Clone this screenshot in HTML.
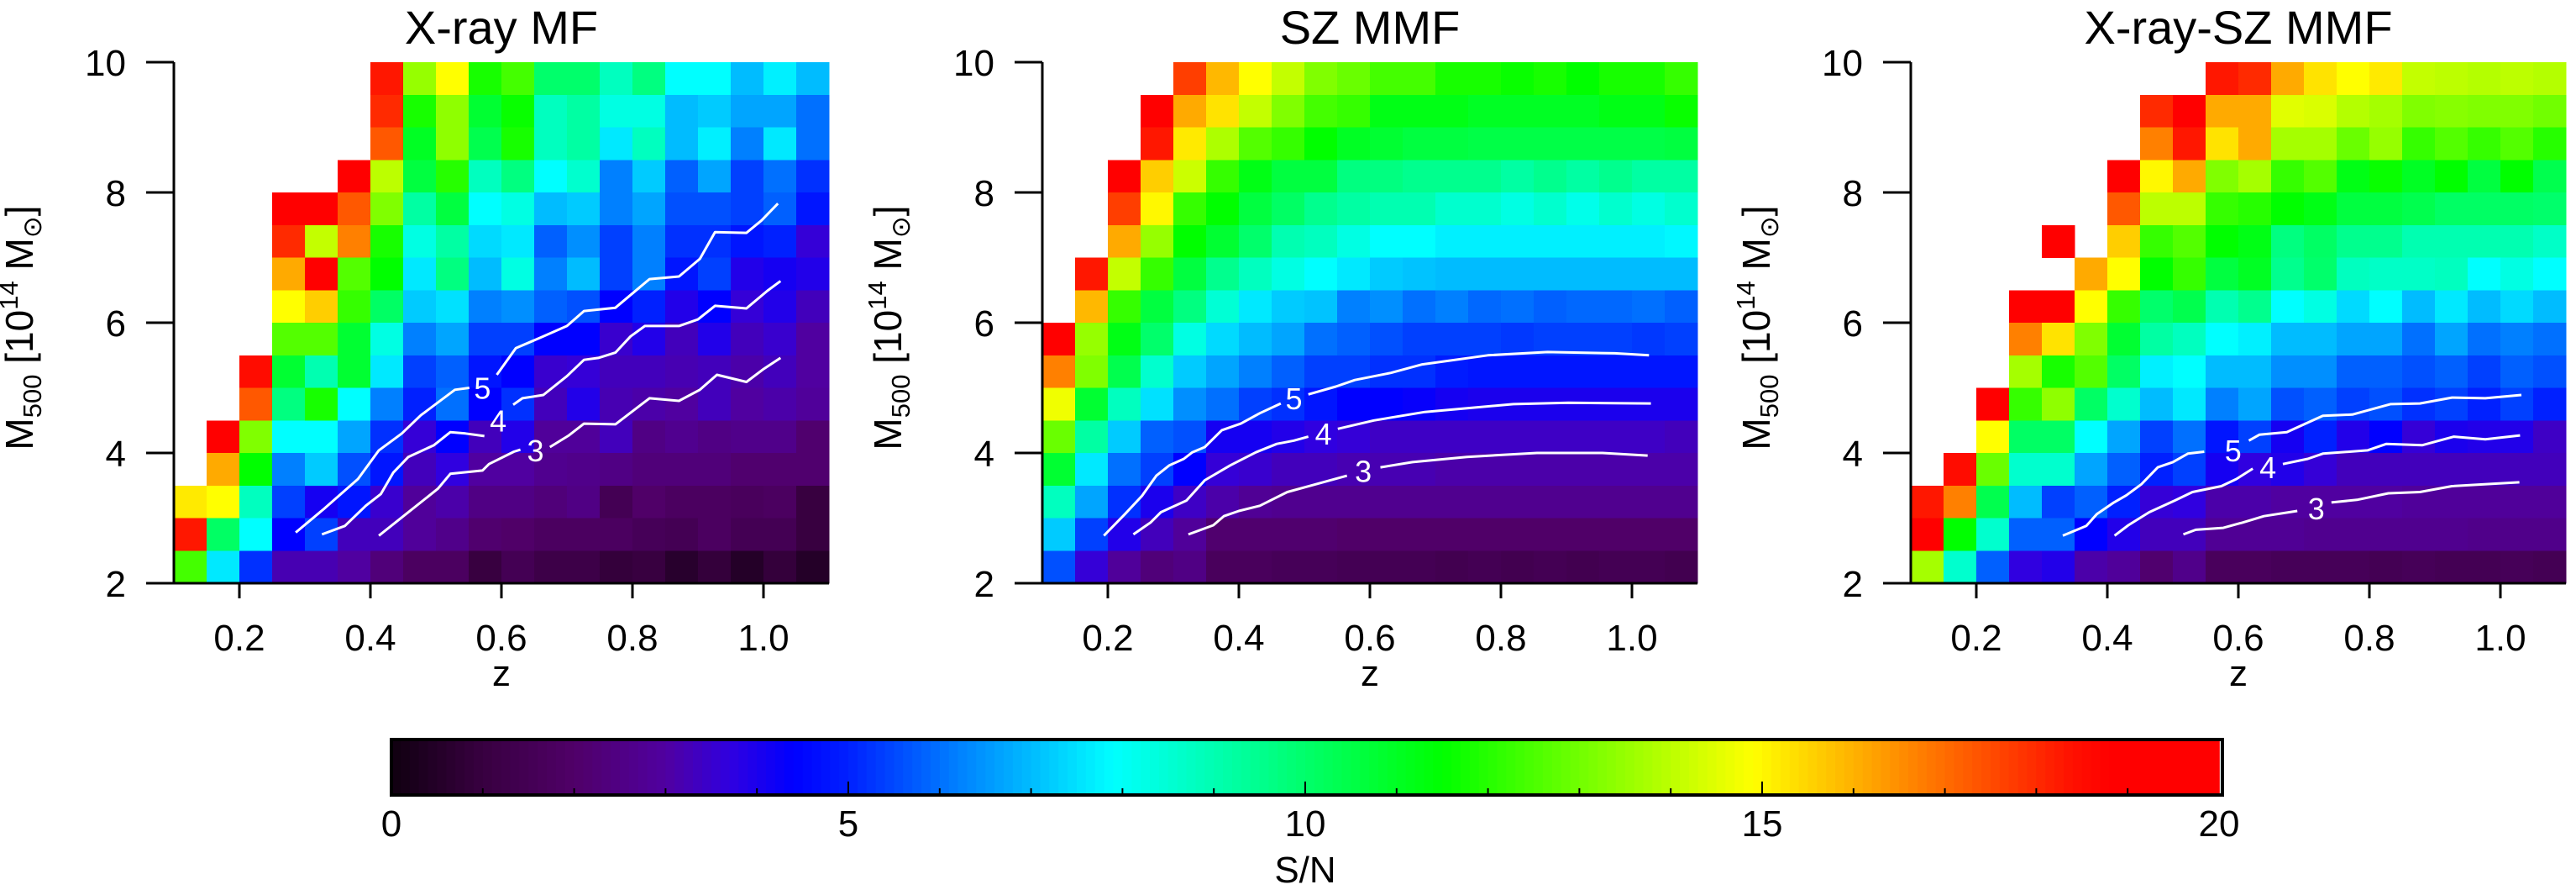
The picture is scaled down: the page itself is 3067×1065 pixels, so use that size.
<!DOCTYPE html>
<html><head><meta charset="utf-8">
<style>
html,body{margin:0;padding:0;background:#fff;}
svg{display:block;font-family:"Liberation Sans",Arial,sans-serif;}
</style></head>
<body>
<svg id="fig" width="3067" height="1065" viewBox="0 0 3067 1065" xmlns="http://www.w3.org/2000/svg"></svg>
<script>
const n = null;
const panelTitles = ["X-ray MF", "SZ MMF", "X-ray-SZ MMF"];
const zTicks = [0.2, 0.4, 0.6, 0.8, 1.0];
const zTickLabels = ["0.2", "0.4", "0.6", "0.8", "1.0"];
const mTicks = [2, 4, 6, 8, 10];
const mTickLabels = ["2", "4", "6", "8", "10"];
const cbTicks = [0, 5, 10, 15, 20];
const cbTickLabels = ["0", "5", "10", "15", "20"];
const contourLevels = ["5", "4", "3"];

// rows top (M 9.5-10) to bottom (M 2-2.5); 20 z columns 0.1..1.1
const snrXray = [
[n,n,n,n,n,n,18.3,13.5,14.9,11.8,12.4,10.0,10.0,8.8,9.7,7.9,7.9,7.0,7.7,7.0],
[n,n,n,n,n,n,18.0,11.8,13.4,10.8,11.6,8.8,9.2,8.3,8.3,7.0,7.2,6.7,6.7,6.0],
[n,n,n,n,n,n,17.3,11.0,13.4,10.4,11.8,8.8,9.2,7.6,8.8,7.0,7.7,6.2,7.6,6.0],
[n,n,n,n,n,19.5,14.0,10.6,12.0,8.8,9.7,7.9,8.6,6.2,7.2,5.8,6.7,5.4,6.0,5.2],
[n,n,n,19.5,19.5,17.3,13.2,9.2,10.6,7.9,8.3,7.0,7.2,6.2,6.7,5.6,5.6,5.4,5.8,4.8],
[n,n,n,18.0,14.1,16.7,11.8,8.3,9.2,7.4,7.6,5.8,6.4,5.4,6.2,5.2,5.2,4.8,5.0,3.6],
[n,n,n,16.1,19.5,12.6,11.5,7.6,9.7,7.0,8.3,6.2,7.0,5.4,6.2,4.8,5.4,3.9,4.1,3.9],
[n,n,n,14.9,15.6,12.2,10.1,7.2,7.5,6.2,6.4,5.8,5.6,4.4,5.0,3.9,4.4,3.6,3.9,3.3],
[n,n,n,12.6,12.6,10.8,8.3,6.2,6.7,5.4,5.4,4.4,4.4,3.5,3.9,3.3,3.9,3.3,3.5,3.0],
[n,n,18.5,10.8,9.0,10.8,7.6,5.4,5.8,4.8,4.4,3.5,3.6,3.3,3.3,3.2,3.3,3.1,3.3,3.0],
[n,n,17.3,9.7,11.8,7.9,6.2,5.0,6.0,4.4,5.2,3.3,3.9,3.2,3.1,3.0,3.3,3.0,3.1,2.9],
[n,19.5,13.2,7.9,7.9,6.7,5.2,3.6,4.4,3.3,3.9,2.9,2.9,3.3,2.5,2.7,2.5,2.6,2.6,2.1],
[n,16.1,11.5,6.2,7.2,5.6,4.8,3.3,3.7,3.0,3.0,2.7,2.6,2.5,2.3,2.3,2.3,2.1,2.1,2.1],
[15.2,14.9,8.8,5.4,4.1,4.8,3.5,2.9,3.1,2.5,2.5,2.3,2.5,1.5,2.0,1.8,1.8,1.7,1.8,1.0],
[18.3,10.1,7.9,4.4,5.4,3.3,3.3,2.9,2.6,2.1,2.0,1.8,1.8,1.8,1.6,1.5,1.8,1.5,1.5,1.0],
[12.4,7.6,5.2,3.2,3.2,3.0,2.3,1.8,1.8,1.0,1.5,1.2,1.2,0.9,1.0,0.6,0.9,0.5,0.9,0.5]
];
const snrSZ = [
[n,n,n,n,17.7,15.9,14.9,14.1,13.2,12.9,12.4,12.4,11.8,11.8,11.6,11.8,11.5,11.8,11.8,12.2],
[n,n,n,19.5,16.1,15.3,14.1,13.2,12.4,12.2,11.2,11.2,11.2,11.0,11.0,11.0,11.0,11.2,11.2,11.6],
[n,n,n,18.3,15.2,13.8,12.6,12.2,11.5,11.0,10.8,10.6,10.6,10.5,10.5,10.5,10.5,10.5,10.5,10.6],
[n,n,19.5,15.6,14.2,12.2,11.2,10.6,10.6,9.7,9.7,9.5,9.5,9.5,9.2,9.5,9.2,9.5,9.2,9.2],
[n,n,17.7,15.0,12.2,11.5,10.6,10.1,9.5,9.2,9.0,9.0,8.6,8.6,8.3,8.6,8.2,8.6,8.3,8.6],
[n,n,16.1,13.5,11.5,10.8,10.0,9.0,8.8,8.3,7.9,7.9,7.7,7.7,7.7,7.7,7.7,7.7,7.7,7.8],
[n,18.3,14.1,12.2,10.6,9.5,8.8,8.3,7.9,7.6,7.2,7.1,7.0,7.0,7.0,7.0,7.0,7.0,7.0,7.0],
[n,15.9,12.2,10.6,9.7,8.5,7.6,7.2,7.1,6.2,6.4,6.0,6.2,5.9,6.0,5.8,5.9,5.9,6.0,5.8],
[19.5,13.5,11.2,10.0,8.3,7.4,7.0,6.7,6.0,5.8,5.6,5.4,5.4,5.4,5.3,5.4,5.4,5.4,5.3,5.4],
[16.7,13.2,10.4,8.6,7.2,6.7,6.2,5.8,5.4,5.4,5.2,5.2,4.9,4.8,4.8,4.8,4.8,4.8,4.8,4.8],
[14.7,10.8,8.8,7.5,6.4,6.0,5.4,5.2,4.8,4.4,4.4,4.3,4.1,4.0,4.0,4.0,4.0,4.0,4.0,4.0],
[12.9,9.2,7.2,5.8,5.6,4.1,4.1,3.9,3.7,3.6,3.4,3.4,3.4,3.4,3.4,3.4,3.4,3.4,3.4,3.3],
[10.8,7.6,6.0,5.4,4.4,3.6,3.5,3.3,3.3,3.2,3.2,3.2,3.1,3.1,3.1,3.1,3.1,3.1,3.1,3.1],
[8.8,6.7,5.2,4.0,3.4,3.1,2.8,2.7,2.7,2.7,2.7,2.7,2.7,2.7,2.7,2.7,2.7,2.7,2.7,2.7],
[7.2,5.4,3.9,3.3,2.9,2.1,2.1,2.1,2.1,2.0,2.0,2.0,2.0,2.0,2.0,2.0,2.0,2.0,2.0,2.0],
[5.6,3.6,2.9,2.3,2.5,1.7,1.7,1.6,1.6,1.5,1.5,1.5,1.4,1.5,1.4,1.5,1.4,1.5,1.5,1.4]
];
const snrJoint = [
[n,n,n,n,n,n,n,n,n,18.3,18.0,16.1,15.3,14.9,15.2,14.1,14.0,13.9,14.0,13.9],
[n,n,n,n,n,n,n,18.0,19.5,16.1,16.1,14.5,14.4,13.9,13.7,13.2,13.3,13.2,13.2,13.0],
[n,n,n,n,n,n,n,16.7,18.3,15.3,16.1,13.7,13.7,12.9,13.5,12.2,12.6,12.2,12.6,12.0],
[n,n,n,n,n,n,19.5,15.0,16.1,13.2,13.7,12.2,12.6,11.2,11.6,11.0,11.5,10.6,11.5,10.4],
[n,n,n,n,n,n,17.3,14.0,14.0,12.2,12.0,11.5,11.2,10.6,10.6,10.4,10.1,10.1,10.1,10.0],
[n,n,n,n,19.5,n,15.6,12.2,12.6,11.5,11.2,9.7,10.1,9.5,9.5,9.0,9.0,9.0,9.0,8.7],
[n,n,n,n,n,16.1,14.9,11.5,12.2,10.6,11.0,9.5,10.0,8.8,8.7,8.7,8.8,7.9,8.3,7.9],
[n,n,n,19.5,19.5,14.9,12.2,10.0,10.4,9.0,9.5,7.9,8.3,7.4,7.9,7.0,7.6,7.0,7.4,7.0],
[n,n,n,16.7,15.3,13.2,10.8,9.2,8.8,7.9,7.7,7.0,7.0,6.7,6.7,6.0,6.7,6.0,6.2,6.0],
[n,n,n,13.7,11.8,12.6,10.1,7.7,7.9,7.0,7.0,6.4,6.4,5.8,5.8,5.6,5.8,5.4,5.8,5.6],
[n,n,19.5,12.2,13.4,10.1,8.6,7.0,7.6,6.2,6.7,5.6,5.8,5.4,5.6,5.2,5.4,5.0,5.4,5.0],
[n,n,14.9,10.1,10.1,7.9,6.7,5.4,6.0,4.8,5.4,4.1,5.0,3.9,4.4,3.6,4.0,3.9,3.9,3.4],
[n,18.5,12.9,8.6,8.6,6.7,5.8,5.0,5.4,4.1,3.7,3.9,3.6,3.3,3.3,3.3,3.3,3.3,3.3,3.3],
[18.3,16.7,10.4,7.0,5.4,5.8,5.0,3.6,3.7,3.1,3.1,3.0,3.0,3.0,3.0,2.9,2.9,2.9,2.9,2.9],
[19.5,11.5,8.6,5.8,5.8,4.4,3.9,3.3,3.3,2.8,2.8,2.8,2.7,2.7,2.7,2.7,2.7,2.6,2.6,2.6],
[13.7,8.6,5.8,3.7,3.9,3.1,2.9,2.1,2.6,1.7,1.7,1.6,1.6,1.6,1.5,1.6,1.5,1.5,1.6,1.5]
];

// contour polylines [z, M], each level split in two around its label
const contXray5 = [[[0.286,2.78],[0.329,3.14],[0.381,3.60],[0.413,4.04],[0.448,4.30],[0.477,4.58],[0.529,4.97],[0.551,5.0]],[[0.593,5.20],[0.622,5.61],[0.664,5.79],[0.700,5.95],[0.726,6.18],[0.774,6.23],[0.826,6.67],[0.871,6.71],[0.903,6.98],[0.926,7.39],[0.974,7.38],[0.997,7.57],[1.022,7.83]]];
const contXray4 = [[[0.326,2.75],[0.361,2.88],[0.393,3.19],[0.416,3.37],[0.435,3.70],[0.458,3.94],[0.497,4.12],[0.522,4.32],[0.545,4.30],[0.574,4.26]],[[0.618,4.74],[0.632,4.84],[0.664,4.89],[0.700,5.18],[0.726,5.43],[0.748,5.46],[0.774,5.54],[0.797,5.79],[0.819,5.95],[0.871,5.95],[0.900,6.05],[0.926,6.26],[0.974,6.22],[1.006,6.49],[1.026,6.64]]];
const contXray3 = [[[0.413,2.73],[0.448,3.01],[0.503,3.45],[0.522,3.68],[0.571,3.73],[0.581,3.83],[0.619,4.02],[0.629,4.05]],[[0.674,4.09],[0.703,4.27],[0.726,4.45],[0.774,4.44],[0.826,4.84],[0.871,4.80],[0.903,4.97],[0.929,5.20],[0.974,5.09],[0.999,5.28],[1.026,5.46]]];
const contSZ5 = [[[0.194,2.73],[0.226,3.06],[0.252,3.34],[0.274,3.65],[0.294,3.81],[0.316,3.91],[0.329,4.01],[0.348,4.09],[0.374,4.35],[0.403,4.45],[0.432,4.61],[0.464,4.76]],[[0.506,4.90],[0.548,5.02],[0.577,5.12],[0.632,5.23],[0.680,5.36],[0.780,5.50],[0.871,5.55],[0.974,5.53],[1.026,5.50]]];
const contSZ4 = [[[0.239,2.75],[0.265,2.93],[0.281,3.09],[0.320,3.27],[0.348,3.58],[0.387,3.81],[0.426,4.01],[0.458,4.14],[0.484,4.19],[0.506,4.25]],[[0.551,4.37],[0.606,4.50],[0.684,4.63],[0.819,4.75],[0.903,4.77],[1.029,4.76]]];
const contSZ3 = [[[0.323,2.75],[0.361,2.89],[0.377,3.03],[0.400,3.11],[0.432,3.19],[0.474,3.40],[0.510,3.50],[0.565,3.65]],[[0.616,3.78],[0.665,3.86],[0.748,3.94],[0.855,4.00],[0.955,4.00],[1.024,3.96]]];
const contJ5 = [[[0.332,2.73],[0.368,2.88],[0.384,3.06],[0.410,3.24],[0.429,3.35],[0.452,3.52],[0.477,3.78],[0.500,3.86],[0.523,3.99],[0.548,4.02]],[[0.616,4.19],[0.632,4.28],[0.674,4.32],[0.729,4.57],[0.774,4.59],[0.832,4.75],[0.877,4.76],[0.926,4.85],[0.977,4.84],[1.032,4.89]]];
const contJ4 = [[[0.411,2.73],[0.432,2.89],[0.464,3.09],[0.503,3.27],[0.530,3.40],[0.574,3.49],[0.597,3.60],[0.622,3.76]],[[0.668,3.83],[0.706,3.91],[0.729,3.99],[0.797,4.04],[0.826,4.14],[0.881,4.12],[0.929,4.25],[0.977,4.21],[1.030,4.27]]];
const contJ3 = [[[0.516,2.75],[0.535,2.82],[0.577,2.85],[0.606,2.93],[0.639,3.03],[0.690,3.11]],[[0.742,3.24],[0.781,3.28],[0.829,3.38],[0.877,3.40],[0.926,3.49],[1.029,3.55]]];
const labelXray = [[0.571,5.0],[0.595,4.5],[0.652,4.04]];
const labelSZ = [[0.484,4.84],[0.529,4.30],[0.590,3.72]];
const labelJ = [[0.592,4.04],[0.645,3.78],[0.719,3.15]];

const panelData = [snrXray, snrSZ, snrJoint];
const panelContours = [[contXray5,contXray4,contXray3],[contSZ5,contSZ4,contSZ3],[contJ5,contJ4,contJ3]];
const panelLabels = [labelXray, labelSZ, labelJ];

// layout
const L = [207, 1241, 2275], T = 74, W = 780, H = 620;
const zMin = 0.1, zMax = 1.1, mMin = 2, mMax = 10;
const CB = {x0: 466, x1: 2642, y0: 880, y1: 946, vmin: 0, vmax: 20};

const stops = [[0,[16,0,16]],[1,[56,0,64]],[2,[80,0,104]],[3,[80,0,160]],[3.7,[48,0,224]],[4.4,[0,0,255]],[5,[0,32,255]],[6.2,[0,128,255]],[7.9,[0,255,255]],[9.7,[0,255,128]],[11.5,[0,255,0]],[13.2,[128,255,0]],[14.9,[255,255,0]],[16.7,[255,128,0]],[18.4,[255,16,0]],[18.8,[255,0,0]],[20,[255,0,0]]];
function cmap(v){
  v = Math.max(0, Math.min(20, v));
  for (let i = 1; i < stops.length; i++) {
    if (v <= stops[i][0]) {
      const a = stops[i-1], b = stops[i], t = (v - a[0]) / (b[0] - a[0]);
      const c = a[1].map((x, k) => Math.round(x + (b[1][k] - x) * t));
      return `rgb(${c[0]},${c[1]},${c[2]})`;
    }
  }
  return 'rgb(255,0,0)';
}
const NS = 'http://www.w3.org/2000/svg';
const svg = document.getElementById('fig');
function mk(tag, attrs, parent){
  const e = document.createElementNS(NS, tag);
  for (const k in attrs) e.setAttribute(k, attrs[k]);
  (parent || svg).appendChild(e);
  return e;
}

panelData.forEach((data, p) => {
  const x0 = L[p];
  const xs = z => x0 + (z - zMin) / (zMax - zMin) * W;
  const ys = m => T + (mMax - m) / (mMax - mMin) * H;
  const g = mk('g', {});
  
  
  const nRows = data.length, nCols = data[0].length;
  const dz = (zMax - zMin) / nCols, dm = (mMax - mMin) / nRows;
  const cells = mk('g', {'shape-rendering': 'crispEdges'}, g);
  
  
  data.forEach((row, r) => {
    const mTop = mMax - r * dm;
    row.forEach((v, c) => {
      if (v === null) return;
      const za = zMin + c * dz;
      const rc = mk('rect', {x: xs(za), y: ys(mTop), width: xs(za + dz) - xs(za) + 0.6, height: ys(mTop - dm) - ys(mTop) + 0.6, fill: cmap(v)}, cells);
      
      
    });
  });
  panelContours[p].forEach((segs, li) => {
    segs.forEach(seg => {
      const pl = mk('polyline', {points: seg.map(q => xs(q[0]).toFixed(1) + ',' + ys(q[1]).toFixed(1)).join(' '), fill: 'none', stroke: '#fff', 'stroke-width': 3, 'stroke-linejoin': 'round'}, g);
      
      
    });
    const lp = panelLabels[p][li];
    const t = mk('text', {x: xs(lp[0]), y: ys(lp[1]) + 13, 'font-size': 36, fill: '#fff', 'text-anchor': 'middle'}, g);
    t.textContent = contourLevels[li];
    
    
  });
  const ax = mk('path', {d: `M${x0},${T} V${T + H} H${x0 + W}`, fill: 'none', stroke: '#000', 'stroke-width': 3}, g);
  
  
  mTicks.forEach((m, i) => {
    const y = ys(m);
    const tk = mk('line', {x1: x0 - 33, x2: x0, y1: y, y2: y, stroke: '#000', 'stroke-width': 3}, g);
    
    
    const tl = mk('text', {x: x0 - 57, y: y + 16, 'font-size': 44, 'text-anchor': 'end'}, g);
    tl.textContent = mTickLabels[i];
    
    
  });
  zTicks.forEach((z, i) => {
    const x = xs(z);
    const tk = mk('line', {x1: x, x2: x, y1: T + H, y2: T + H + 18, stroke: '#000', 'stroke-width': 3}, g);
    
    
    const tl = mk('text', {x: x, y: 774, 'font-size': 44, 'text-anchor': 'middle'}, g);
    tl.textContent = zTickLabels[i];
    
    
  });
  const xt = mk('text', {x: x0 + W / 2, y: 816, 'font-size': 44, 'text-anchor': 'middle'}, g);
  xt.textContent = 'z';
  
  
  const tt = mk('text', {x: x0 + W / 2, y: 52, 'font-size': 56, 'text-anchor': 'middle'}, g);
  tt.textContent = panelTitles[p];
  
  
  const yt = mk('text', {x: 0, y: 0, 'font-size': 46, 'text-anchor': 'middle', transform: `translate(${x0 - 168},390) rotate(-90)`}, g);
  yt.innerHTML = 'M<tspan font-size="31" dy="10">500</tspan><tspan dy="-10"> [10</tspan><tspan font-size="31" dy="-18">14</tspan><tspan dy="18"> M</tspan><tspan font-size="31" dy="10">⊙</tspan><tspan dy="-10">]</tspan>';
  
  
});

const cb = mk('g', {});


const cx = v => CB.x0 + (v - CB.vmin) / (CB.vmax - CB.vmin) * (CB.x1 - CB.x0);
const gsteps = 200;
for (let i = 0; i < gsteps; i++) {
  const v = CB.vmin + (i + 0.5) * (CB.vmax - CB.vmin) / gsteps;
  const xa = cx(CB.vmin + i * (CB.vmax - CB.vmin) / gsteps);
  const xb = cx(CB.vmin + (i + 1) * (CB.vmax - CB.vmin) / gsteps);
  const r = mk('rect', {x: xa, y: CB.y0, width: xb - xa + 0.8, height: CB.y1 - CB.y0, fill: cmap(v)}, cb);
  
  
}
for (let v = 1; v < 20; v++) {
  const major = v % 5 === 0;
  const tk = mk('line', {x1: cx(v), x2: cx(v), y1: CB.y1, y2: CB.y1 - (major ? 16 : 8), stroke: '#000', 'stroke-width': 2}, cb);
  
  
}
const fr = mk('rect', {x: CB.x0, y: CB.y0, width: CB.x1 - CB.x0 + 4, height: CB.y1 - CB.y0, fill: 'none', stroke: '#000', 'stroke-width': 4}, cb);


cbTicks.forEach((v, i) => {
  const t = mk('text', {x: cx(v), y: 995, 'font-size': 44, 'text-anchor': 'middle'}, cb);
  t.textContent = cbTickLabels[i];
  
  
});
const sn = mk('text', {x: cx(10), y: 1050, 'font-size': 44, 'text-anchor': 'middle'}, cb);
sn.textContent = 'S/N';


</script>
</body></html>
